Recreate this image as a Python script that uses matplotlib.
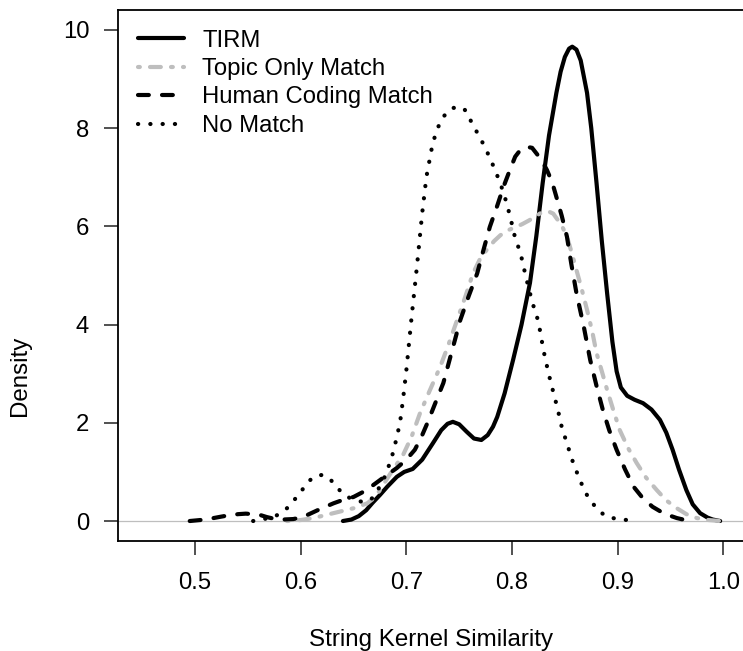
import matplotlib
matplotlib.use("Agg")
from matplotlib import pyplot as plt

plt.rcParams['font.family'] = ['Liberation Sans', 'DejaVu Sans']

# density curves
tirm_x = [0.640, 0.648, 0.655, 0.662, 0.668, 0.675, 0.682, 0.691, 0.698, 0.706,
          0.715, 0.725, 0.733, 0.739, 0.744, 0.750, 0.757, 0.764, 0.771, 0.777,
          0.782, 0.786, 0.793, 0.801, 0.809, 0.817, 0.823, 0.829, 0.835, 0.842,
          0.846, 0.850, 0.854, 0.857, 0.861, 0.865, 0.868, 0.871, 0.875, 0.880,
          0.885, 0.890, 0.895, 0.899, 0.903, 0.909, 0.916, 0.924, 0.932, 0.940,
          0.946, 0.952, 0.958, 0.965, 0.971, 0.978, 0.985, 0.990, 0.997]
tirm_y = [0.0, 0.03, 0.10, 0.22, 0.37, 0.53, 0.70, 0.90, 1.00, 1.06,
          1.25, 1.58, 1.85, 1.98, 2.02, 1.97, 1.82, 1.68, 1.65, 1.75,
          1.92, 2.12, 2.60, 3.28, 4.00, 4.85, 5.80, 6.88, 7.85, 8.72,
          9.15, 9.45, 9.62, 9.66, 9.60, 9.38, 9.05, 8.72, 8.00, 6.88,
          5.70, 4.64, 3.65, 3.05, 2.72, 2.55, 2.47, 2.40, 2.27, 2.06,
          1.80, 1.45, 1.05, 0.63, 0.34, 0.16, 0.07, 0.03, 0.0]

topic_x = [0.587, 0.600, 0.612, 0.631, 0.650, 0.663, 0.670, 0.675, 0.685, 0.697,
           0.705, 0.713, 0.722, 0.732, 0.740, 0.748, 0.756, 0.763, 0.770, 0.776,
           0.783, 0.789, 0.796, 0.804, 0.810, 0.816, 0.822, 0.827, 0.831, 0.835,
           0.839, 0.842, 0.847, 0.852, 0.856, 0.861, 0.866, 0.871, 0.876, 0.880,
           0.885, 0.890, 0.896, 0.902, 0.910, 0.918, 0.927, 0.937, 0.946, 0.956,
           0.965, 0.975, 0.986, 0.997]
topic_y = [0.0, 0.02, 0.06, 0.16, 0.26, 0.36, 0.48, 0.63, 0.97, 1.35,
           1.72, 2.2, 2.65, 3.14, 3.6, 4.09, 4.58, 5.04, 5.35, 5.52,
           5.70, 5.82, 5.92, 5.99, 6.05, 6.12, 6.20, 6.27, 6.30, 6.30,
           6.26, 6.17, 6.02, 5.79, 5.50, 5.11, 4.72, 4.30, 3.85, 3.42,
           3.05, 2.67, 2.25, 1.85, 1.48, 1.18, 0.88, 0.63, 0.42, 0.26,
           0.14, 0.06, 0.02, 0.0]

human_x = [0.495, 0.505, 0.515, 0.525, 0.533, 0.541, 0.548, 0.555, 0.562, 0.568,
           0.574, 0.583, 0.593, 0.600, 0.606, 0.618, 0.631, 0.640, 0.650, 0.658,
           0.666, 0.678, 0.691, 0.700, 0.708, 0.714, 0.720, 0.727, 0.735, 0.743,
           0.751, 0.759, 0.767, 0.773, 0.779, 0.786, 0.792, 0.798, 0.803, 0.808,
           0.814, 0.819, 0.823, 0.828, 0.833, 0.838, 0.842, 0.847, 0.852, 0.856,
           0.861, 0.868, 0.874, 0.880, 0.886, 0.892, 0.899, 0.907, 0.915, 0.924,
           0.933, 0.944, 0.956, 0.968]
human_y = [0.0, 0.02, 0.05, 0.09, 0.12, 0.14, 0.15, 0.14, 0.12, 0.08,
           0.05, 0.03, 0.04, 0.07, 0.12, 0.24, 0.36, 0.43, 0.49, 0.58,
           0.69, 0.88, 1.08, 1.25, 1.45, 1.70, 2.00, 2.38, 2.81, 3.45,
           4.09, 4.58, 5.04, 5.52, 5.99, 6.42, 6.81, 7.15, 7.42, 7.56,
           7.62, 7.60, 7.49, 7.35, 7.15, 6.90, 6.60, 6.22, 5.79, 5.25,
           4.64, 3.95, 3.28, 2.75, 2.26, 1.85, 1.45, 1.05, 0.70, 0.46,
           0.29, 0.15, 0.06, 0.0]

nomatch_x = [0.555, 0.575, 0.587, 0.598, 0.607, 0.614, 0.621, 0.628, 0.634, 0.640,
             0.647, 0.655, 0.663, 0.668, 0.673, 0.680, 0.686, 0.690, 0.694, 0.697,
             0.700, 0.705, 0.710, 0.715, 0.719, 0.725, 0.730, 0.735, 0.740, 0.744,
             0.749, 0.754, 0.758, 0.762, 0.766, 0.770, 0.777, 0.784, 0.790, 0.795,
             0.799, 0.803, 0.808, 0.812, 0.816, 0.820, 0.825, 0.828, 0.831, 0.835,
             0.839, 0.843, 0.847, 0.852, 0.857, 0.863, 0.869, 0.874, 0.879, 0.885,
             0.891, 0.900, 0.909]
nomatch_y = [0.0, 0.08, 0.26, 0.53, 0.80, 0.92, 0.94, 0.85, 0.69, 0.56,
             0.46, 0.40, 0.39, 0.47, 0.63, 0.92, 1.28, 1.62, 2.00, 2.50,
             3.07, 4.16, 5.18, 6.27, 7.01, 7.70, 8.02, 8.23, 8.36, 8.41,
             8.43, 8.41, 8.30, 8.10, 7.95, 7.80, 7.49, 7.15, 6.81, 6.47,
             6.13, 5.76, 5.46, 5.08, 4.72, 4.40, 4.06, 3.69, 3.35, 2.97,
             2.63, 2.30, 1.92, 1.58, 1.24, 0.90, 0.60, 0.42, 0.29, 0.16,
             0.08, 0.04, 0.02]

labels = ["TIRM", "Topic Only Match", "Human Coding Match", "No Match"]
x_ticks = [0.5, 0.6, 0.7, 0.8, 0.9, 1.0]
y_ticks = [0, 2, 4, 6, 8, 10]

W, H = 743, 651
fig = plt.figure(figsize=(W / 100, H / 100), dpi=100)
ax = fig.add_axes([118.3 / W, 110 / H, (W - 118.3) / W, 531 / H])

lw = 3.0
gray = "#BEBEBE"
ax.axhline(0, color=gray, lw=0.9, zorder=1)
common = dict(lw=lw, solid_capstyle="round", dash_capstyle="round",
              solid_joinstyle="round", dash_joinstyle="round")
ax.plot(tirm_x, tirm_y, color="black", ls="-", label=labels[0], **common)
ax.plot(topic_x, topic_y, color=gray, ls=(0, (0.44, 2.44, 2.6, 2.44)), label=labels[1], **common)
ax.plot(human_x, human_y, color="black", ls=(0, (2.6, 3.16)), label=labels[2], **common)
ax.plot(nomatch_x, nomatch_y, color="black", ls=(0, (0.05, 2.9)), label=labels[3], **common)

ax.set_xlim(0.4274, 1.0186)
ax.set_ylim(-0.407, 10.407)
ax.set_xticks(x_ticks)
ax.set_xticklabels(["0.5", "0.6", "0.7", "0.8", "0.9", "1.0"])
ax.set_yticks(y_ticks)
ax.tick_params(labelsize=17.2, length=10, width=1.2, color="#333333")
ax.tick_params(axis="x", pad=12)
ax.tick_params(axis="y", pad=11)
ax.spines["right"].set_visible(False)
for s in ["left", "top", "bottom"]:
    ax.spines[s].set_linewidth(1.3)

fig.text(431 / W, 5 / H, "String Kernel Similarity", ha="center", va="baseline", fontsize=17.4)
fig.text(20 / W, 275.5 / H, "Density", ha="center", va="center", rotation=90, fontsize=17.4)

ax.legend(loc="upper left", frameon=False, fontsize=17.2, handlelength=1.95,
          handletextpad=0.75, labelspacing=0.27, borderaxespad=0.0,
          bbox_to_anchor=(10 / (W - 118.3), 1 - 10 / 531))

fig.savefig("out.png", dpi=100)
